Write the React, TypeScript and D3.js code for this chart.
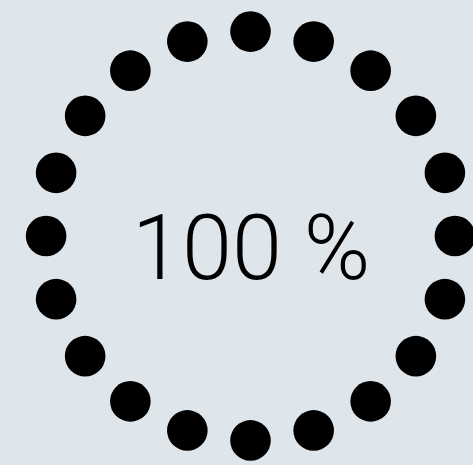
import { useEffect, useRef } from "react";
import * as d3 from "d3";

// gauge settings
const percentValues = [100];
const dotCounts = [20];
const labelSuffix = [" %"];

export default function App() {
    const svgRef = useRef<SVGSVGElement>(null);
    const width = 473;
    const height = 465;
    const center = { x: 250.5, y: 236 };
    const ringRadius = 204.4;
    const dotRadius = 20.3;

    useEffect(() => {
        document.body.style.margin = "0";
        const svg = d3.select(svgRef.current);
        svg.selectAll("*").remove();

        svg.append("rect")
            .attr("width", width)
            .attr("height", height)
            .attr("fill", "#dee6ec");

        const n = dotCounts[0];
        const value = percentValues[0];

        // angle for each dot, starting at the top, clockwise
        const angle = d3.scaleLinear().domain([0, n]).range([0, 2 * Math.PI]);
        // how many dots are "on" for the current value
        const filled = d3.scaleLinear().domain([0, 100]).range([0, n]);

        const g = svg.append("g").attr("transform", `translate(${center.x},${center.y})`);

        g.selectAll("circle")
            .data(d3.range(n))
            .enter()
            .append("circle")
            .attr("cx", d => ringRadius * Math.sin(angle(d)))
            .attr("cy", d => -ringRadius * Math.cos(angle(d)))
            .attr("r", dotRadius)
            .attr("fill", d => (d < filled(value) ? "#000" : "#b8c2ca"));

        g.append("text")
            .attr("x", 0.7)
            .attr("y", 43.3)
            .attr("text-anchor", "middle")
            .attr("font-family", "Roboto, 'Open Sans', sans-serif")
            .attr("font-weight", 300)
            .attr("font-size", "90px")
            .attr("fill", "#000")
            .text(`${value}${labelSuffix[0]}`);
    }, []);

    return (
        <svg
            ref={svgRef}
            width={width}
            height={height}
            style={{ display: "block", position: "absolute", left: 0, top: 0 }}
        />
    );
}
